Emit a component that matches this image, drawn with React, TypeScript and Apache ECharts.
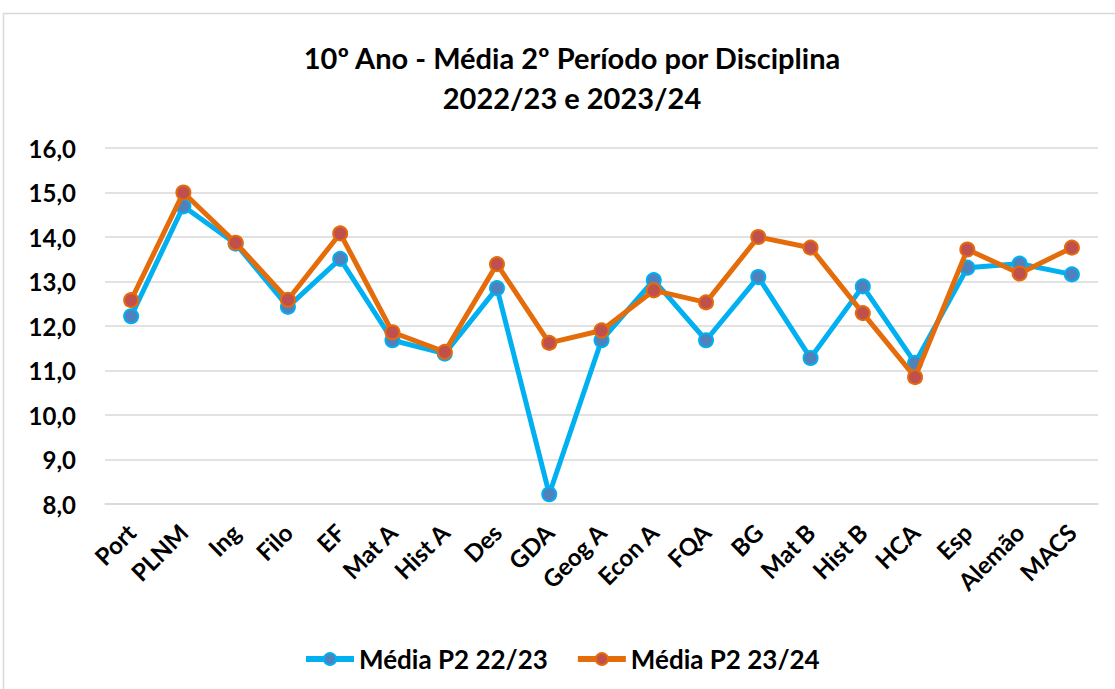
import React, { useEffect, useRef } from "react";
import * as echarts from "echarts";

const categories = ["Port", "PLNM", "Ing", "Filo", "EF", "Mat A", "Hist A", "Des", "GDA", "Geog A", "Econ A", "FQA", "BG", "Mat B", "Hist B", "HCA", "Esp", "Alemão", "MACS"];
const media2223 = [12.22, 14.69, 13.85, 12.43, 13.51, 11.68, 11.38, 12.85, 8.22, 11.68, 13.03, 11.68, 13.1, 11.28, 12.89, 11.17, 13.31, 13.4, 13.16];
const media2324 = [12.58, 15.0, 13.87, 12.59, 14.08, 11.86, 11.42, 13.39, 11.62, 11.9, 12.8, 12.53, 14.0, 13.76, 12.29, 10.85, 13.72, 13.18, 13.76];
const seriesNames = ["Média P2 22/23", "Média P2 23/24"];
const yMin = 8;
const yMax = 16;
const yStep = 1;
const titleLines = ["10º Ano - Média 2º Período por Disciplina", "2022/23 e 2023/24"];

const FONT = "Lato";

export default function App() {
  const ref = useRef<HTMLDivElement>(null);
  useEffect(() => {
    if (!ref.current) return;
    const chart = echarts.init(ref.current, null, { renderer: "svg" });
    chart.setOption({
      animation: false,
      backgroundColor: "#ffffff",
      textStyle: { fontFamily: FONT },
      graphic: [
        {
          type: "rect",
          shape: { x: 3.5, y: 13.5, width: 1130, height: 700 },
          style: { fill: "none", stroke: "#d9d9d9", lineWidth: 1.5 },
          silent: true,
        },
      ],
      title: {
        text: titleLines.join("\n"),
        left: 567,
        textAlign: "center",
        top: 32,
        textStyle: { fontFamily: FONT, fontWeight: "bold", fontSize: 29, lineHeight: 40, color: "#000" },
      },
      legend: {
        bottom: 12,
        left: 298,
        itemWidth: 48,
        itemHeight: 15,
        itemGap: 27,
        lineStyle: { width: 6 },
        textStyle: { fontFamily: FONT, fontWeight: "bold", fontSize: 26, color: "#000" },
        data: seriesNames,
      },
      grid: { left: 105, right: 17, top: 148, bottom: 185, containLabel: false },
      xAxis: {
        type: "category",
        data: categories,
        boundaryGap: true,
        axisLine: { show: true, lineStyle: { color: "#d9d9d9", width: 1.5 } },
        axisTick: { show: false },
        axisLabel: { rotate: 45, fontFamily: FONT, fontWeight: "bold", fontSize: 24, color: "#000", margin: 24, interval: 0 },
      },
      yAxis: {
        type: "value",
        min: yMin,
        max: yMax,
        interval: yStep,
        axisLine: { show: false },
        axisTick: { show: false },
        splitLine: { lineStyle: { color: "#d9d9d9", width: 1.5 } },
        axisLabel: {
          fontFamily: FONT,
          fontWeight: "bold",
          fontSize: 24,
          color: "#000",
          margin: 29,
          formatter: (v: number) => v.toFixed(1).replace(".", ","),
        },
      },
      series: [
        {
          name: seriesNames[0],
          type: "line",
          data: media2223,
          symbol: "circle",
          symbolSize: 14,
          lineStyle: { color: "#00B0F0", width: 5 },
          itemStyle: { color: "#4F81BD", borderColor: "#00B0F0", borderWidth: 2 },
          z: 2,
        },
        {
          name: seriesNames[1],
          type: "line",
          data: media2324,
          symbol: "circle",
          symbolSize: 14,
          lineStyle: { color: "#E46C0A", width: 5 },
          itemStyle: { color: "#C0504D", borderColor: "#E46C0A", borderWidth: 2 },
          z: 3,
        },
      ],
    });
    return () => chart.dispose();
  }, []);
  return <div ref={ref} style={{ position: "fixed", left: 0, top: 0, width: 1115, height: 689 }} />;
}
